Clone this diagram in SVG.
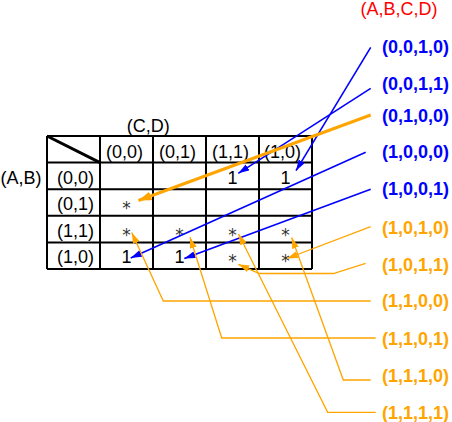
<svg xmlns="http://www.w3.org/2000/svg" width="452" height="422" viewBox="0 0 452 422">
<style>
text{font-family:"Liberation Sans",Arial,sans-serif;font-size:18px;fill:#000}
.g{stroke:#000;stroke-width:2;fill:none}
.star{font-family:"DejaVu Sans",sans-serif;font-size:17px;fill:#333;text-anchor:middle}
.v{text-anchor:middle}
.bl{font-weight:bold;fill:#0000ff}
.or{font-weight:bold;fill:#ffa500}
.red{fill:#ff0000}
.cb{stroke:#0000ff;stroke-width:1.6;fill:none;marker-end:url(#ab)}
.co{stroke:#ffa500;stroke-width:1.3;fill:none;marker-end:url(#ao)}
.ct{stroke:#ffa500;stroke-width:3;fill:none;marker-end:url(#aot)}
</style>
<defs>
<marker id="ab" markerUnits="userSpaceOnUse" markerWidth="12" markerHeight="8" refX="11" refY="3.5" orient="auto"><path d="M0,0 L11,3.5 L0,7 z" fill="#0000ff"/></marker>
<marker id="ao" markerUnits="userSpaceOnUse" markerWidth="12" markerHeight="8" refX="11" refY="3.5" orient="auto"><path d="M0,0 L11,3.5 L0,7 z" fill="#ffa500"/></marker>
<marker id="aot" markerUnits="userSpaceOnUse" markerWidth="14" markerHeight="10" refX="13" refY="4.5" orient="auto"><path d="M0,0 L13,4.5 L0,9 z" fill="#ffa500"/></marker>
</defs>
<rect width="452" height="422" fill="#fff"/>
<g id="kmap">
<path class="g" d="M47,136H312M47,162.6H312M47,189.2H312M47,215.8H312M47,242.4H312M47,269H312M47,136V269M100,136V269M153,136V269M206,136V269M259,136V269M312,136V269"/>
<path d="M47,136L100,162.6" stroke="#000" stroke-width="3"/>
<text x="126.7" y="131.7">(C,D)</text>
<text x="0.5" y="184">(A,B)</text>
<text x="106" y="158">(0,0)</text>
<text x="159" y="158">(0,1)</text>
<text x="212" y="158">(1,1)</text>
<text x="264" y="158">(1,0)</text>
<text x="57" y="183.6">(0,0)</text>
<text x="57" y="210.2">(0,1)</text>
<text x="57" y="236.8">(1,1)</text>
<text x="57" y="263.4">(1,0)</text>
<text class="v" x="232.5" y="183.6">1</text>
<text class="v" x="285.5" y="183.6">1</text>
<text class="star" x="126.5" y="214">*</text>
<text class="star" x="126.5" y="240.6">*</text>
<text class="star" x="179.5" y="240.6">*</text>
<text class="star" x="232.5" y="240.6">*</text>
<text class="star" x="285.5" y="240.6">*</text>
<text class="v" x="126.5" y="263.4">1</text>
<text class="v" x="179.5" y="263.4">1</text>
<text class="star" x="232.5" y="267.2">*</text>
<text class="star" x="285.5" y="267.2">*</text>
</g>
<g id="title"><text class="red" x="360.5" y="15">(A,B,C,D)</text></g>
<g id="m0010"><text class="bl" x="382" y="53">(0,0,1,0)</text></g>
<g id="m0011"><text class="bl" x="382" y="90">(0,0,1,1)</text></g>
<g id="m0100"><text class="bl" x="382" y="121.7">(0,1,0,0)</text></g>
<g id="m1000"><text class="bl" x="382" y="158.3">(1,0,0,0)</text></g>
<g id="m1001"><text class="bl" x="382" y="195">(1,0,0,1)</text></g>
<g id="d1010"><text class="or" x="382" y="234">(1,0,1,0)</text></g>
<g id="d1011"><text class="or" x="382" y="270.5">(1,0,1,1)</text></g>
<g id="d1100"><text class="or" x="382" y="307">(1,1,0,0)</text></g>
<g id="d1101"><text class="or" x="382" y="345">(1,1,0,1)</text></g>
<g id="d1110"><text class="or" x="382" y="382">(1,1,1,0)</text></g>
<g id="d1111"><text class="or" x="382" y="419">(1,1,1,1)</text></g>
<g id="connectors">
<path class="cb" d="M370.7,47.3L296,170.7"/>
<path class="cb" d="M370.7,88.3L238.3,173.3"/>
<path class="ct" d="M370.7,115L138.5,200.5"/>
<path class="cb" d="M365.7,152.3L130.7,258"/>
<path class="cb" d="M370.7,189.3L184.3,258.5"/>
<path class="co" d="M370.7,226.7L287,258.5"/>
<path class="co" d="M365.7,263.3L333.3,273.5L259.3,273.5L238.3,264.3"/>
<path class="co" d="M370.7,301L163.3,301L131.7,232.5"/>
<path class="co" d="M375.7,338L221.7,338L190,237.3"/>
<path class="co" d="M370.7,380L343.3,380L291.7,237.5"/>
<path class="co" d="M375.7,412.3L327.7,412.3L238.5,234"/>
</g>
</svg>
